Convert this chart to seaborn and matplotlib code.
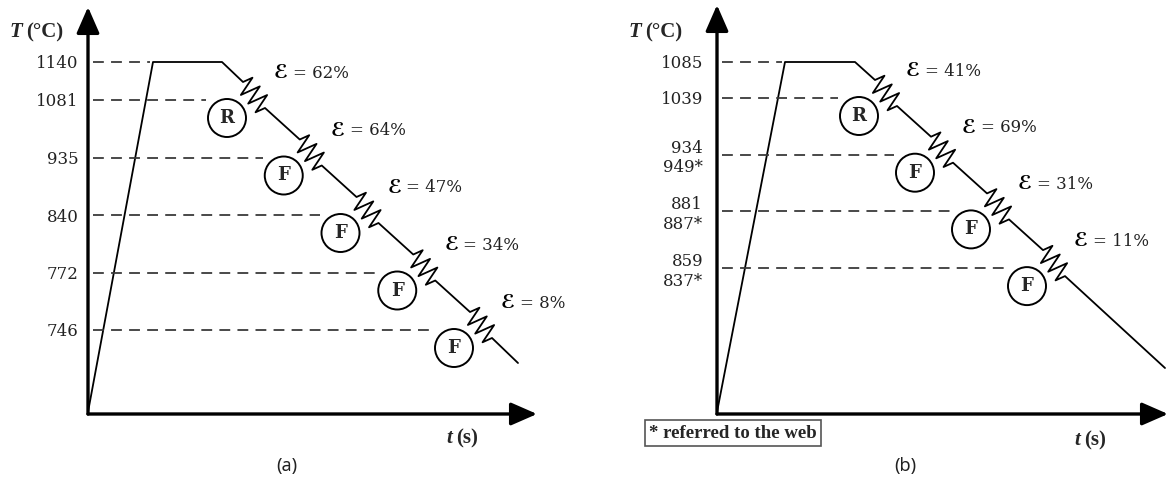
import numpy as np
import matplotlib.pyplot as plt
import seaborn as sns
from matplotlib.patches import Circle

# Panel (a): reheating temperatures, pass strains and pass types
temps_a = ["1140", "1081", "935", "840", "772", "746"]
strains_a = [62, 64, 47, 34, 8]
passes_a = ["R", "F", "F", "F", "F"]

# Panel (b)
temps_b = ["1085", "1039", "934\n949*", "881\n887*", "859\n837*"]
strains_b = [41, 69, 31, 11]
passes_b = ["R", "F", "F", "F"]

sns.set_theme(style="white")
plt.rcParams["font.family"] = ["DejaVu Serif", "DejaVu Sans"]

W, H = 1172, 484
fig = plt.figure(figsize=(W / 100, H / 100), dpi=100)

TOP = 352        # soaking plateau level (schematic units)
R_CIRC = 19


def make_axes(x0, x1, y_bot, y_top):
    ax = fig.add_axes([x0 / W, 1 - y_bot / H, (x1 - x0) / W, (y_bot - y_top) / H])
    ax.set_xlim(0, x1 - x0)
    ax.set_ylim(0, y_bot - y_top)
    return ax


def spring(s, e, amp=10, n=3):
    # zigzag symbol for a deformation pass
    s, e = np.array(s, float), np.array(e, float)
    d = e - s
    u = d / np.hypot(*d)
    p = np.array([-u[1], u[0]])
    if p[0] < 0:
        p = -p
    t = [0] + [(k + 0.5) / (2 * n) for k in range(2 * n)] + [1]
    off = [0] + [amp if k % 2 == 0 else -amp for k in range(2 * n)] + [0]
    pts = [s + ti * d + oi * p for ti, oi in zip(t, off)]
    return [q[0] for q in pts], [q[1] for q in pts]


def draw_panel(ax, temps, strains, passes, s1, step, top_x, flat_end, end_pt, pad):
    starts = [(s1[0] + i * step[0], s1[1] + i * step[1]) for i in range(len(strains))]

    xs, ys = [0, top_x, flat_end], [2, TOP, TOP]
    for s in starts:
        zx, zy = spring(s, (s[0] + 22, s[1] - 26))
        xs += zx
        ys += zy
    xs.append(end_pt[0])
    ys.append(end_pt[1])
    sns.lineplot(x=xs, y=ys, sort=False, estimator=None, color="black",
                 lw=1.3, ax=ax)

    levels = [TOP] + [s[1] - 18 for s in starts]
    ends = [top_x - 3]
    for s in starts:
        ends.append(s[0] - 16 - R_CIRC - 2)
    for lv, xe in zip(levels, ends):
        ax.plot([5, xe], [lv, lv], ls=(0, (6, 4)), color="#3a3a3a", lw=1.3)

    for s, v, kind in zip(starts, strains, passes):
        cx, cy = s[0] - 16, s[1] - 36
        ax.add_patch(Circle((cx, cy), R_CIRC, fill=False, ec="black", lw=1.4))
        ax.text(cx, cy, kind, ha="center", va="center", fontsize=13,
                fontweight="bold")
        ax.text(s[0] + 31, s[1] + 9, "ℰ", ha="left", va="center",
                fontsize=14, fontweight="bold", color="black")
        ax.text(s[0] + 50, s[1] + 9, f"= {v}%", ha="left", va="center",
                fontsize=12, color="#222222")

    ax.set_yticks(levels, temps)
    ax.set_xticks([])
    ax.tick_params(axis="y", length=0, pad=pad, labelsize=12, labelcolor="#222222")
    for sp in ax.spines.values():
        sp.set_visible(False)

    arrow = dict(arrowstyle="-|>,head_length=0.8,head_width=0.35", lw=2.4,
                 color="black", mutation_scale=20, shrinkA=0, shrinkB=0)
    ax.annotate("", xy=(1, 0), xytext=(0, 0), xycoords="axes fraction",
                arrowprops=arrow)
    ax.annotate("", xy=(0, 1), xytext=(0, 0), xycoords="axes fraction",
                arrowprops=arrow)


# panel (a)
ax_a = make_axes(88, 537, 414, 7)
draw_panel(ax_a, temps_a, strains_a, passes_a, s1=(155, 332), step=(56.75, -57.5),
           top_x=65, flat_end=134, end_pt=(430, 51), pad=7)

# panel (b)
ax_b = make_axes(717, 1168, 414, 5)
draw_panel(ax_b, temps_b, strains_b, passes_b, s1=(158, 334), step=(56, -56.7),
           top_x=68, flat_end=138, end_pt=(448, 46), pad=10)

# axis titles
serif = "Liberation Serif"
for ax, tx, ty, sx, sy in [(ax_a, -66, 382, 364, -24), (ax_b, -76, 382, 363, -26)]:
    ax.text(tx, ty, "T", ha="right", va="center", fontsize=15, fontweight="bold",
            fontstyle="italic", family=serif, clip_on=False)
    ax.text(tx + 4, ty, "(°C)", ha="left", va="center", fontsize=15,
            fontweight="bold", family=serif, clip_on=False)
    ax.text(sx, sy, "t", ha="right", va="center", fontsize=15, fontweight="bold",
            fontstyle="italic", family=serif, clip_on=False)
    ax.text(sx + 4, sy, "(s)", ha="left", va="center", fontsize=15,
            fontweight="bold", family=serif, clip_on=False)

fig.text(733 / W, 1 - 433 / H, "* referred to the web", ha="center", va="center",
         fontsize=13.5, fontweight="bold", family=serif,
         bbox=dict(boxstyle="square,pad=0.22", fc="white", ec="#555555", lw=1.2))

fig.text(287 / W, 1 - 466 / H, "(a)", ha="center", va="center", fontsize=13,
         family="Noto Sans", color="#222222")
fig.text(905 / W, 1 - 466 / H, "(b)", ha="center", va="center", fontsize=13,
         family="Noto Sans", color="#222222")

fig.savefig("out.png", dpi=100)
